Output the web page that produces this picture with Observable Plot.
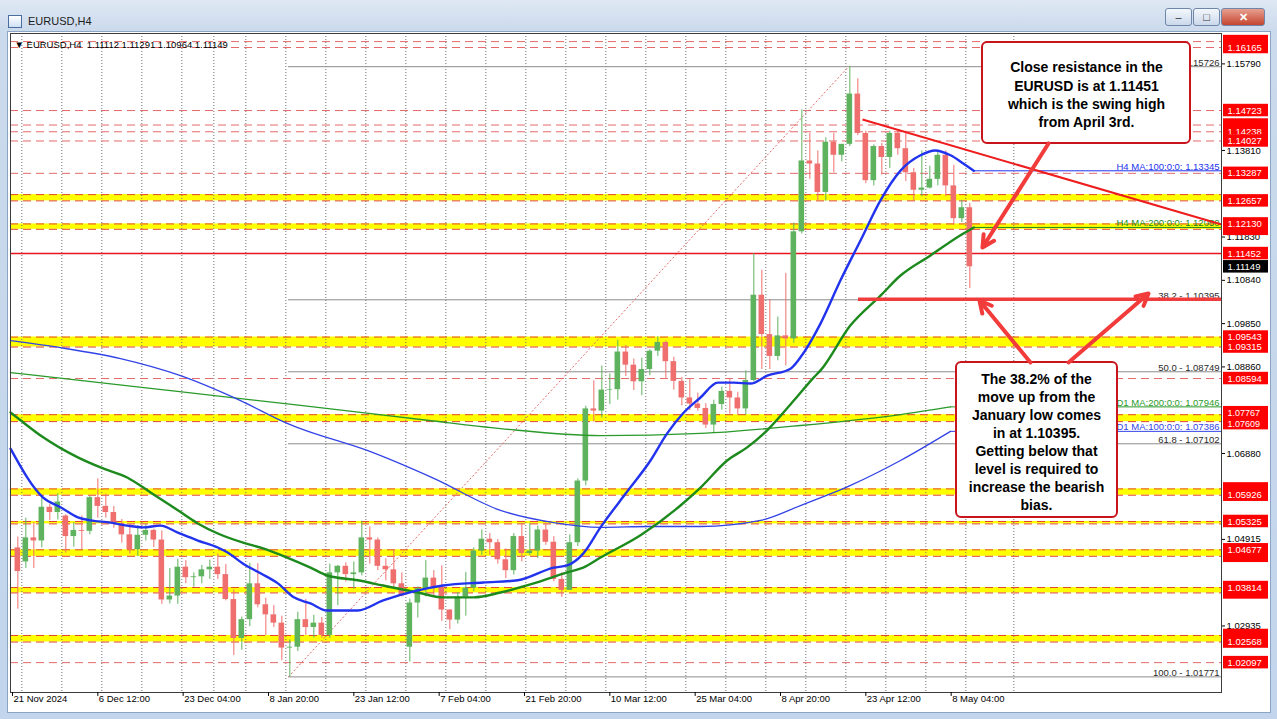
<!DOCTYPE html>
<html>
<head>
<meta charset="utf-8">
<script src="https://cdn.jsdelivr.net/npm/d3@7"></script>
<script src="https://cdn.jsdelivr.net/npm/@observablehq/plot@0.6"></script>
<style>
html,body{margin:0;padding:0;background:#fff;}
#win{position:relative;width:1277px;height:719px;overflow:hidden;background:linear-gradient(180deg,#dfe8f4 0px,#cbdaec 31px,#c2d5ec 100%);font-family:"Liberation Sans",Arial,sans-serif;}
#ttl{position:absolute;left:28px;top:15px;font-size:11px;color:#1b1b1b;}
#ico{position:absolute;left:8px;top:15px;width:12px;height:11px;border:1px solid #4a6f9f;background:linear-gradient(#ffffff,#cfe0f5);}
#client{position:absolute;left:7px;top:31px;width:1264px;height:682px;background:#fff;border:1px solid #8aa4c4;box-sizing:border-box;}
#plot{position:absolute;left:0;top:0;width:1277px;height:719px;}
.b{position:absolute;top:8px;height:18px;box-sizing:border-box;border:1px solid #6f86a8;border-radius:3px;background:linear-gradient(#f3f7fc,#cbd9eb);font-size:11px;text-align:center;line-height:16px;color:#333;}
.bc{background:linear-gradient(#e8a090,#c4452f);color:#fff;font-weight:bold;}
</style>
</head>
<body>
<div id="win">
  <div id="ico"></div><div id="ttl">EURUSD,H4</div>
  <div class="b" style="left:1165px;width:27px">&#8211;</div>
  <div class="b" style="left:1193px;width:27px">&#9633;</div>
  <div class="b bc" style="left:1221px;width:44px">&#10005;</div>
  <div id="client"></div>
  <div id="plot"></div>
</div>
<script>
// ---------------- data ----------------
const days = ["2024-11-22","2024-11-25","2024-11-26","2024-11-27","2024-11-28","2024-11-29",
"2024-12-02","2024-12-03","2024-12-04","2024-12-05","2024-12-06","2024-12-09","2024-12-10","2024-12-11","2024-12-12","2024-12-13",
"2024-12-16","2024-12-17","2024-12-18","2024-12-19","2024-12-20","2024-12-23","2024-12-24","2024-12-26","2024-12-27",
"2024-12-30","2024-12-31","2025-01-02","2025-01-03","2025-01-06","2025-01-07","2025-01-08","2025-01-09","2025-01-10",
"2025-01-13","2025-01-14","2025-01-15","2025-01-16","2025-01-17","2025-01-20","2025-01-21","2025-01-22","2025-01-23","2025-01-24",
"2025-01-27","2025-01-28","2025-01-29","2025-01-30","2025-01-31","2025-02-03","2025-02-04","2025-02-05","2025-02-06","2025-02-07",
"2025-02-10","2025-02-11","2025-02-12","2025-02-13","2025-02-14","2025-02-17","2025-02-18","2025-02-19","2025-02-20","2025-02-21",
"2025-02-24","2025-02-25","2025-02-26","2025-02-27","2025-02-28","2025-03-03","2025-03-04","2025-03-05","2025-03-06","2025-03-07",
"2025-03-10","2025-03-11","2025-03-12","2025-03-13","2025-03-14","2025-03-17","2025-03-18","2025-03-19","2025-03-20","2025-03-21",
"2025-03-24","2025-03-25","2025-03-26","2025-03-27","2025-03-28","2025-03-31","2025-04-01","2025-04-02","2025-04-03","2025-04-04",
"2025-04-07","2025-04-08","2025-04-09","2025-04-10","2025-04-11","2025-04-14","2025-04-15","2025-04-16","2025-04-17","2025-04-18",
"2025-04-21","2025-04-22","2025-04-23","2025-04-24","2025-04-25","2025-04-28","2025-04-29","2025-04-30","2025-05-01","2025-05-02",
"2025-05-05","2025-05-06","2025-05-07","2025-05-08","2025-05-09","2025-05-12"];
const opens = [1.0472,1.0440,1.0495,1.0488,1.0565,1.0553,1.0545,1.0498,1.0512,1.0510,1.0587,1.0567,1.0553,1.0528,1.0502,1.0468,
1.0501,1.0512,1.0490,1.0353,1.0362,1.0428,1.0404,1.0406,1.0422,1.0428,1.0411,1.0354,1.0265,1.0308,1.0390,1.0342,1.0319,1.0300,
1.0243,1.0245,1.0308,1.0290,1.0300,1.0272,1.0415,1.0430,1.0411,1.0415,1.0495,1.0490,1.0430,1.0422,1.0390,1.0245,1.0346,1.0379,1.0403,1.0382,
1.0330,1.0307,1.0360,1.0380,1.0465,1.0492,1.0484,1.0445,1.0420,1.0498,1.0459,1.0465,1.0513,1.0485,1.0400,1.0375,1.0484,1.0625,1.0790,1.0785,
1.0833,1.0834,1.0920,1.0890,1.0852,1.0880,1.0922,1.0942,1.0898,1.0853,1.0815,1.0801,1.0791,1.0753,1.0800,1.0830,1.0815,1.0790,1.0855,1.1050,
1.0960,1.0910,1.0957,1.0950,1.1195,1.1357,1.1350,1.1285,1.1400,1.1370,1.1395,1.1510,1.1420,1.1312,1.1390,1.1365,1.1420,1.1385,1.1330,1.1290,
1.1295,1.1315,1.1370,1.1300,1.1225,1.1250];
const highs = [1.0497,1.0540,1.0530,1.0588,1.0572,1.0596,1.0548,1.0530,1.0545,1.0590,1.0630,1.0595,1.0567,1.0537,1.0525,1.0523,
1.0525,1.0515,1.0511,1.0425,1.0446,1.0443,1.0415,1.0432,1.0444,1.0458,1.0434,1.0376,1.0314,1.0437,1.0436,1.0357,1.0340,1.0316,
1.0262,1.0325,1.0354,1.0318,1.0313,1.0435,1.0432,1.0438,1.0440,1.0533,1.0520,1.0495,1.0447,1.0468,1.0415,1.0355,1.0383,1.0443,1.0420,1.0431,
1.0331,1.0370,1.0416,1.0472,1.0513,1.0505,1.0491,1.0470,1.0505,1.0528,1.0528,1.0522,1.0529,1.0498,1.0415,1.0502,1.0630,1.0796,1.0854,1.0888,
1.0870,1.0947,1.0935,1.0904,1.0906,1.0925,1.0955,1.0945,1.0908,1.0862,1.0858,1.0826,1.0802,1.0810,1.0840,1.0857,1.0828,1.0877,1.1145,1.1107,
1.1040,1.1000,1.1100,1.1215,1.1474,1.1420,1.1380,1.1410,1.1420,1.1395,1.1573,1.1545,1.1425,1.1394,1.1397,1.1425,1.1425,1.1425,1.1340,1.1380,
1.1345,1.1380,1.1380,1.1347,1.1267,1.1260];
const lows = [1.0332,1.0425,1.0425,1.0472,1.0535,1.0536,1.0460,1.0474,1.0468,1.0502,1.0540,1.0540,1.0517,1.0483,1.0458,1.0452,
1.0488,1.0473,1.0343,1.0344,1.0343,1.0390,1.0382,1.0390,1.0400,1.0400,1.0351,1.0226,1.0238,1.0292,1.0335,1.0272,1.0290,1.0214,
1.0177,1.0235,1.0272,1.0266,1.0266,1.0265,1.0340,1.0394,1.0378,1.0408,1.0435,1.0420,1.0397,1.0380,1.0360,1.0211,1.0312,1.0360,1.0362,1.0304,
1.0285,1.0298,1.0316,1.0372,1.0455,1.0455,1.0435,1.0402,1.0410,1.0440,1.0455,1.0448,1.0478,1.0395,1.0359,1.0375,1.0475,1.0614,1.0760,1.0769,
1.0800,1.0810,1.0864,1.0832,1.0820,1.0866,1.0910,1.0860,1.0833,1.0797,1.0786,1.0785,1.0745,1.0733,1.0787,1.0778,1.0775,1.0776,1.0852,1.0880,
1.0880,1.0900,1.0888,1.0940,1.1190,1.1315,1.1266,1.1265,1.1330,1.1355,1.1390,1.1415,1.1305,1.1300,1.1325,1.1340,1.1370,1.1310,1.1265,1.1275,
1.1293,1.1300,1.1275,1.1210,1.1216,1.1065];
const closes = [1.0418,1.0495,1.0488,1.0565,1.0553,1.0577,1.0498,1.0512,1.0510,1.0587,1.0567,1.0553,1.0528,1.0502,1.0468,1.0501,
1.0512,1.0490,1.0353,1.0362,1.0428,1.0404,1.0406,1.0422,1.0428,1.0411,1.0354,1.0265,1.0308,1.0390,1.0342,1.0319,1.0300,1.0243,
1.0245,1.0308,1.0290,1.0300,1.0272,1.0415,1.0430,1.0411,1.0415,1.0495,1.0490,1.0430,1.0422,1.0390,1.0362,1.0346,1.0379,1.0403,1.0382,1.0330,
1.0307,1.0360,1.0380,1.0465,1.0492,1.0484,1.0445,1.0420,1.0498,1.0459,1.0465,1.0513,1.0485,1.0400,1.0375,1.0484,1.0625,1.0790,1.0785,1.0833,
1.0834,1.0920,1.0890,1.0852,1.0880,1.0922,1.0942,1.0898,1.0853,1.0815,1.0801,1.0791,1.0753,1.0800,1.0830,1.0815,1.0790,1.0855,1.1050,1.0960,
1.0910,1.0957,1.0950,1.1195,1.1357,1.1350,1.1285,1.1400,1.1370,1.1395,1.1510,1.1420,1.1312,1.1390,1.1365,1.1420,1.1385,1.1330,1.1290,1.1295,
1.1315,1.1370,1.1300,1.1225,1.1250,1.11149];

// moving averages: [H4 bar index, price]
const h4ma100 = [[-1.5,1.0699],[23,1.0587],[36,1.0565],[49,1.0542],[58.5,1.0535],[73.5,1.0530],[86,1.0523],[98,1.0519],[111,1.0523],[124,1.0507],
[139,1.0489],[154,1.0473],[161,1.0462],[173,1.0436],[186,1.0414],[199,1.0391],[211,1.0359],[223.5,1.0345],[236,1.0329],[259,1.0329],[278,1.0352],
[304,1.0375],[323,1.0386],[353,1.0393],[379,1.0398],[406,1.0427],[416,1.0432],[428,1.0459],[441,1.0519],[460,1.0597],[478.5,1.0672],[491,1.0734],
[503,1.0780],[516,1.0816],[529,1.0850],[541,1.0850],[553.5,1.0848],[566,1.0866],[583.5,1.0882],[591,1.0908],[606,1.0985],[621,1.1084],[636,1.1175],
[651,1.1267],[666,1.1335],[681,1.1370],[692,1.1381],[703.5,1.1370],[715,1.1347],[721,1.13345]];
const h4ma200 = [[-1.5,1.0782],[6,1.0764],[23,1.0725],[49,1.0679],[66,1.0656],[86,1.0633],[103.5,1.0599],[124,1.0558],[139,1.0528],[154,1.0505],
[173,1.0484],[188,1.0471],[206,1.0450],[223.5,1.0427],[236,1.0409],[259,1.0398],[278,1.0386],[304,1.0370],[323,1.0359],[346,1.0359],[366,1.0370],
[391,1.0391],[416,1.0416],[428,1.0427],[441,1.0450],[471,1.0501],[501,1.0569],[516,1.0610],[536,1.0672],[551,1.0702],[566,1.0741],[586,1.0809],
[601,1.0862],[606,1.0878],[628.5,1.0981],[651,1.1049],[666,1.1095],[688.5,1.1141],[711,1.1187],[721,1.12050]];
const d1ma200 = [[-1.5,1.0873],[103.5,1.0837],[216,1.0798],[311,1.0764],[366,1.0745],[441,1.0729],[516,1.0734],[591,1.0752],[666,1.0777],[703.5,1.07946]];
const d1ma100 = [[-1.5,1.0946],[36,1.0930],[81,1.0905],[126,1.0866],[171,1.0809],[206,1.0757],[216,1.0745],[266,1.0695],[316,1.0631],[366,1.0558],
[406,1.0530],[441,1.0519],[478.5,1.0521],[516,1.0521],[561,1.0535],[591,1.0569],[628.5,1.0615],[666,1.0672],[703.5,1.07386]];
const maNames = ["H4 MA:100:0:0:", "H4 MA:200:0:0:", "D1 MA:200:0:0:", "D1 MA:100:0:0:"];
const maLast = [1.13345, 1.12050, 1.07946, 1.07386];

// fibonacci retracement (Jan low -> Apr high)
const fibPct = ["0.0", "38.2", "50.0", "61.8", "100.0"];
const fibLevels = [1.15726, 1.10395, 1.08749, 1.07102, 1.01771];

// horizontal objects
const bands = [[1.12657,1.12800],[1.12007,1.12130],[1.09315,1.09543],[1.07609,1.07767],[1.05926,1.06070],[1.05270,1.05325],
[1.04529,1.04677],[1.03691,1.03814],[1.02568,1.02718]];
const dashLevels = [1.16300,1.16165,1.14723,1.14392,1.14238,1.14027,1.13287,1.08594,1.02097];
const resistance = 1.11452;
// price tags on the axis, in drawing order; tags that sit under another tag keep only their red box
const coveredTags = [1.16300,1.14392,1.12007,1.06070,1.04529,1.03691,1.02718];
const redLabels = [1.16165,1.14723,1.14238,1.14027,1.13287,1.12657,1.12130,1.11452,1.09543,1.09315,1.08594,
1.07767,1.07609,1.05926,1.05325,1.04677,1.03814,1.02568,1.02097];
const lastPrice = 1.11149;
const axisPrices = [1.15790,1.13810,1.11830,1.10840,1.09850,1.08860,1.06880,1.04915,1.02935];
const xTickBars = [0,64,128,192,256,320,384,448,512,576,640,704];
const xTickLabels = ["21 Nov 2024","6 Dec 12:00","23 Dec 04:00","8 Jan 20:00","23 Jan 12:00","7 Feb 04:00","21 Feb 20:00",
"10 Mar 12:00","25 Mar 04:00","8 Apr 20:00","23 Apr 12:00","8 May 04:00"];
const extraGridBars = [751];
const ohlcText = "\u25BC EURUSD,H4  1.11112 1.11291 1.10964 1.11149";
const note1 = "Close resistance in the\nEURUSD is at 1.11451\nwhich is the swing high\nfrom April 3rd.";
const note2 = "The 38.2% of the\nmove up from the\nJanuary low comes\nin at 1.10395.\nGetting below that\nlevel is required to\nincrease the bearish\nbias.";

// ---------------- chart ----------------
const X0 = -1.5, X1 = 906.75, YB = 1.01414, YT = 1.16485;
const TAG_H = 0.00143;
const candles = days.map((d, k) => ({i: 1 + 6 * k, o: opens[k], h: highs[k], l: lows[k], c: closes[k]}));
const isUp = d => d.c >= d.o;
const GREEN = "#5fb35f", RED = "#ef6f6f";
const gridBars = candles.filter((d, k) => new Date(days[k] + "T12:00:00Z").getUTCDay() === 1).map(d => d.i).concat(extraGridBars);
const series = pairs => pairs.map(([i, v]) => ({i, v}));
const maColors = ["#2233ee", "#1c8a1c", "#2a9a2a", "#3344e6"];
const maFrom = [721, 721, 703.5, 703.5];
const maInfo = maNames.map((n, k) => ({name: n, v: maLast[k], from: maFrom[k], color: maColors[k]}));
const fib = fibLevels.map((v, k) => ({v, t: fibPct[k] + " - " + v.toFixed(5)}));
// pixel nudges so that two tags 7px apart stay readable
const tagNudge = v => v === 1.07767 ? -2 : v === 1.07609 ? 2 : 0;

const labelMarks = [
  Plot.rect(coveredTags, {x1: 908.25, x2: 942, y1: v => v - TAG_H, y2: v => v + TAG_H, fill: "#ff0000"}),
  ...redLabels.flatMap(v => [
    Plot.rect([v], {x1: 908.25, x2: 942, y1: v - TAG_H, y2: v + TAG_H, fill: "#ff0000", dy: tagNudge(v)}),
    Plot.text([v], {x: 911.25, y: v, text: d => d.toFixed(5), fill: "#ffffff", textAnchor: "start", dy: tagNudge(v),
      fontSize: tagNudge(v) ? 9 : 9.5})
  ])
];

const chart = Plot.plot({
  width: 1277, height: 719,
  marginLeft: 10, marginRight: 56, marginTop: 33, marginBottom: 27,
  x: {domain: [X0, X1], axis: null},
  y: {domain: [YB, YT], axis: null},
  style: {background: "transparent", fontFamily: "'Liberation Sans', Arial, sans-serif", fontSize: "9.5px", color: "#000", overflow: "visible"},
  marks: [
    Plot.rect(bands, {x1: X0, x2: X1, y1: d => d[0], y2: d => d[1], fill: "#ffff00"}),
    Plot.ruleX(gridBars, {stroke: "#707070", strokeDasharray: "1,2"}),
    Plot.ruleY(bands.flat(), {stroke: "#e2452b", strokeDasharray: "8,5"}),
    Plot.ruleY(dashLevels, {stroke: "#e46a6a", strokeDasharray: "8,5"}),
    Plot.ruleY([resistance], {stroke: "#e8141e", strokeWidth: 1.6}),
    Plot.ruleY(fib, {y: "v", x1: 207, x2: X1, stroke: "#8c8c8c"}),
    Plot.link([0], {x1: 207, y1: fibLevels[4], x2: 627, y2: fibLevels[0], stroke: "#e46a6a", strokeDasharray: "2,2"}),
    // candles
    Plot.ruleX(candles, {x: d => d.i + 3, y1: "l", y2: "h", stroke: d => isUp(d) ? GREEN : RED}),
    Plot.rect(candles, {x1: d => d.i + 0.9, x2: d => d.i + 5.1, y1: "o",
      y2: d => Math.abs(d.c - d.o) < 0.00015 ? d.o + (isUp(d) ? 0.00015 : -0.00015) : d.c,
      fill: d => isUp(d) ? GREEN : RED}),
    // moving averages
    Plot.line(series(d1ma200), {x: "i", y: "v", stroke: maColors[2], strokeWidth: 1.3, curve: "monotone-x"}),
    Plot.line(series(d1ma100), {x: "i", y: "v", stroke: maColors[3], strokeWidth: 1.3, curve: "monotone-x"}),
    Plot.line(series(h4ma200), {x: "i", y: "v", stroke: maColors[1], strokeWidth: 2.4, curve: "monotone-x"}),
    Plot.line(series(h4ma100), {x: "i", y: "v", stroke: maColors[0], strokeWidth: 2.4, curve: "monotone-x"}),
    Plot.ruleY(maInfo, {y: "v", x1: "from", x2: X1, stroke: "color", strokeWidth: 1}),
    Plot.text(maInfo, {x: X1, y: "v", text: d => d.name + " " + d.v.toFixed(5), fill: "color", textAnchor: "end", lineAnchor: "bottom", dx: -2, dy: -1}),
    Plot.text(fib, {x: X1, y: "v", text: "t", fill: "#2a2a2a", textAnchor: "end", lineAnchor: "bottom", dx: -2, dy: -1}),
    // trend line and 38.2 level highlight
    Plot.link([0], {x1: 637.5, y1: 1.14518, x2: X1, y2: 1.12117, stroke: "#ee1c1c", strokeWidth: 2}),
    Plot.ruleY([1.1041], {x1: 634.5, x2: X1, stroke: "#f03c3c", strokeWidth: 3.5}),
    // annotations
    Plot.rect([0], {x1: 727.5, x2: 883.5, y1: 1.13970, y2: 1.16279, fill: "#ffffff", stroke: "#c8141c", strokeWidth: 2, rx: 5}),
    Plot.text([note1], {x: 805.5, y: 1.15106, text: d => d, fontWeight: "bold", fontSize: 14, lineHeight: 1.31, fill: "#000"}),
    Plot.rect([0], {x1: 708, x2: 828.75, y1: 1.05416, y2: 1.08961, fill: "#ffffff", stroke: "#c8141c", strokeWidth: 2, rx: 5}),
    Plot.text([note2], {x: 768, y: 1.07154, text: d => d, fontWeight: "bold", fontSize: 14, lineHeight: 1.29, fill: "#000"}),
    Plot.arrow([
      {x1: 777, y1: 1.13970, x2: 727.5, y2: 1.11591},
      {x1: 763.5, y1: 1.08961, x2: 725.25, y2: 1.10379},
      {x1: 792, y1: 1.08961, x2: 852, y2: 1.10539}
    ], {x1: "x1", y1: "y1", x2: "x2", y2: "y2", stroke: "#f23b3b", strokeWidth: 4, headLength: 5, headAngle: 55}),
    Plot.frame({stroke: "#3c3c3c"}),
    Plot.text([ohlcText], {frameAnchor: "top-left", dx: 4, dy: 8, textAnchor: "start", fontSize: 9.5, fill: "#000"}),
    // axes
    Plot.axisY(axisPrices, {anchor: "right", tickFormat: d => d.toFixed(5), tickSize: 3, tickPadding: 2}),
    ...labelMarks,
    Plot.rect([lastPrice], {x1: 908.25, x2: 942, y1: lastPrice - TAG_H, y2: lastPrice + TAG_H, fill: "#000000"}),
    Plot.text([lastPrice], {x: 911.25, y: lastPrice, text: d => d.toFixed(5), fill: "#ffffff", textAnchor: "start"}),
    Plot.ruleX(xTickBars, {y1: YB, y2: YB - 0.0009, stroke: "#000"}),
    Plot.text(xTickBars, {x: d => d, frameAnchor: "bottom", dy: 9, dx: 1, textAnchor: "start", text: (d, k) => xTickLabels[k], fill: "#000"})
  ]
});
document.getElementById("plot").appendChild(chart);
</script>
</body>
</html>
